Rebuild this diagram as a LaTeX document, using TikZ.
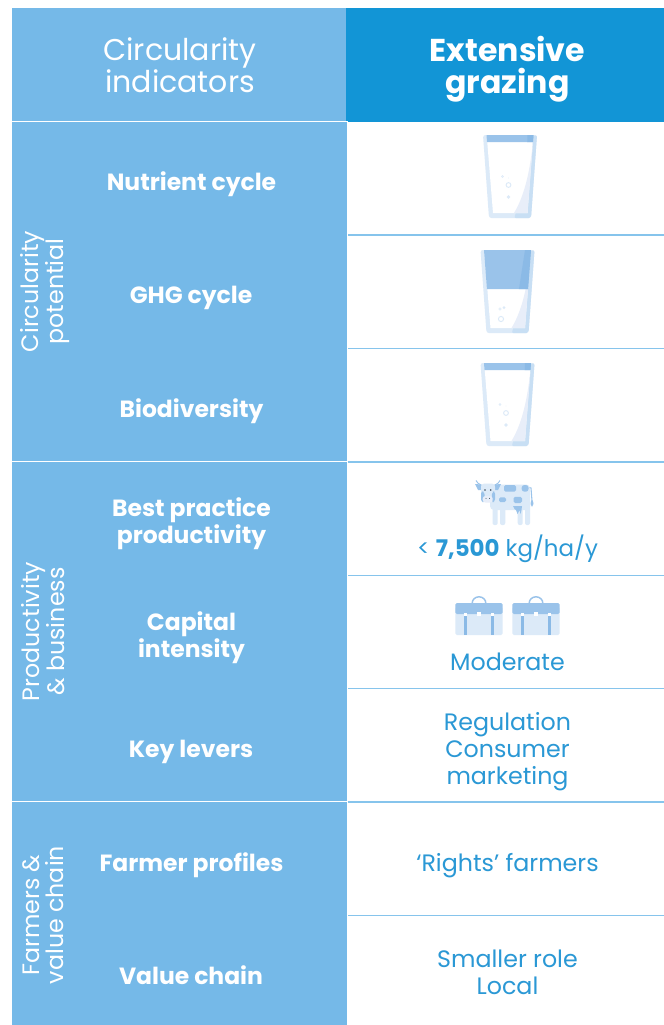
\documentclass[tikz,border=0pt]{standalone}
\usepackage{fontspec}
\setmainfont{Poppins}
\definecolor{lightblue}{HTML}{75B9E8}
\definecolor{deepblue}{HTML}{1295D6}
\definecolor{rulecol}{HTML}{86C4EC}
\definecolor{textblue}{HTML}{2A98D5}
\definecolor{paleA}{HTML}{DCEAF8}
\definecolor{paleB}{HTML}{C8DFF4}
\definecolor{paleC}{HTML}{E8EEF9}
\definecolor{midA}{HTML}{9AC3EA}
\definecolor{midB}{HTML}{8BBAE6}
\definecolor{darkdot}{HTML}{3A4A5A}
\tikzset{
  hdr/.style={text=white,align=center,font=\fontsize{22.5}{24}\selectfont,inner sep=0pt},
  hdrb/.style={text=white,align=center,font=\fontsize{23.7}{24}\selectfont\bfseries,inner sep=0pt},
  rowlab/.style={text=white,align=center,font=\fontsize{17.6}{20.3}\selectfont\bfseries,inner sep=0pt},
  grouplab/.style={text=white,align=center,rotate=90,font=\fontsize{17.8}{18.2}\selectfont,inner sep=0pt},
  cell/.style={text=textblue,align=center,font=\fontsize{17.8}{20.3}\selectfont,inner sep=0pt},
  rowrule/.style={draw=rulecol,line width=0.9pt},
  whiterule/.style={draw=white,line width=0.9pt},
}
% glass: centre x, top y, water depth in px
\newcommand{\glassbody}[3]{%
  \begin{scope}[shift={(#1,#2)}]
    \fill[paleA,rounded corners=1.8pt] (-27,0) -- (27,0) -- (21,83) -- (-21,83) -- cycle;
    \fill[paleB,rounded corners=1.5pt] (21,2) -- (27,0) -- (21,83) -- (4,83) -- (6,78) -- cycle;
    \fill[white] (-23,4) -- (23,4) -- (17.5,78) -- (-17,78) -- cycle;
    \fill[paleC] (23,7) .. controls (20,35) and (15,60) .. (4,78) -- (17.5,78) -- cycle;
    \fill[midA] (-23.5,0) -- (23.5,0) -- ({23.5-0.075*#3},#3) -- ({-23.5+0.075*#3},#3) -- cycle;
    \fill[midB] (17.5,0) -- (23.5,0) -- ({23.5-0.075*#3},#3) -- ({18.5-0.18*#3},#3) -- cycle;
  \end{scope}}
\newcommand{\bubblesA}[2]{%
  \begin{scope}[shift={(#1,#2)}]
    \draw[paleA,line width=0.7pt] (-1.5,50) circle (2.4);
    \draw[paleA,line width=0.4pt] (-7.5,41.5) circle (1.1);
    \fill[paleA] (-1.5,62) circle (1.8);
    \fill[paleA] (-1.5,43) circle (0.4);
  \end{scope}}
\newcommand{\bubblesB}[2]{%
  \begin{scope}[shift={(#1,#2)}]
    \draw[paleA,line width=0.7pt] (-6.5,69) circle (2.6);
    \draw[paleA,line width=0.4pt] (-7.5,59) circle (1.2);
    \fill[paleA] (-3.5,57.5) circle (1.5);
  \end{scope}}
\newcommand{\briefcase}[1]{%
  \begin{scope}[shift={(#1,603)}]
    \draw[midA,line width=1.1pt] (-6.8,0) arc (180:360:6.8 and 6.2);
    \fill[paleA,rounded corners=1.2pt] (-23.7,4) rectangle (23.7,32);
    \fill[midA,rounded corners=1.2pt] (-23.7,0) -- (23.7,0) -- (23.7,11) -- (-23.7,11) -- cycle;
    \fill[midB] (-15,10) rectangle (-11.7,32);
    \fill[midB] (11.7,10) rectangle (15,32);
    \fill[white] (-15,9.5) rectangle (-11.7,12.5);
    \fill[white] (11.7,9.5) rectangle (15,12.5);
    \fill[white] (-1.6,8.5) rectangle (1.6,12.5);
  \end{scope}}
\begin{document}
\begin{tikzpicture}[x=0.75pt,y=-0.75pt]
\useasboundingbox (0,0) rectangle (664,1025);
\fill[white] (0,0) rectangle (664,1025);
% panels
\fill[lightblue] (12,8) rectangle (346,121);
\fill[deepblue] (346,8) rectangle (664,122);
\fill[lightblue] (12,122) rectangle (347,1025);
\draw[whiterule] (12,121.5) -- (347.5,121.5);
\draw[whiterule] (347.5,122) -- (347.5,1025);
\draw[whiterule] (12,461.5) -- (347.5,461.5);
\draw[whiterule] (12,801.5) -- (347.5,801.5);
% row rules
\foreach \yy in {235,348.5,462,575.5,688.5,802,915.5}
  \draw[rowrule] (348,\yy) -- (664,\yy);
% header
\node[hdr] (hleft) at (180,65) {Circularity\\indicators};
\node[hdrb] (hright) at (507.5,69) {Extensive\\grazing};
% group labels
\node[grouplab] (g1) at (45,291.5) {Circularity\\potential};
\node[grouplab] (g2) at (43,631.5) {Productivity\\\& business};
\node[grouplab] (g3) at (43,915) {Farmers \&\\value chain};
% row labels
\node[rowlab] (r1) at (191.5,184) {Nutrient cycle};
\node[rowlab] (r2) at (191,297.5) {GHG cycle};
\node[rowlab] (r3) at (191.5,411) {Biodiversity};
\node[rowlab] (r4) at (191.5,524) {Best practice\\productivity};
\node[rowlab] (r5) at (191.5,637.5) {Capital\\intensity};
\node[rowlab] (r6) at (191,751.5) {Key levers};
\node[rowlab] (r7) at (191.5,865) {Farmer profiles};
\node[rowlab] (r8) at (191,975.5) {Value chain};
% cells
\glassbody{510}{135}{7}\bubblesA{510}{135}
\glassbody{507.5}{250}{39}\bubblesB{507.5}{250}
\glassbody{507.5}{363}{7}\bubblesA{507.5}{363}
% cow
\begin{scope}
  \draw[midA,line width=0.8pt] (527,487) -- (531,488) -- (532,501);
  \fill[midA] (532,499.5) .. controls (530,503) and (530,505) .. (532,507) .. controls (534,505) and (534,503) .. (532,499.5);
  \fill[paleA,rounded corners=1.5pt] (492.5,500) rectangle (497.7,525);
  \fill[paleA,rounded corners=1.5pt] (500,500) rectangle (505.3,525);
  \fill[paleA,rounded corners=1.5pt] (517.7,500) rectangle (522.7,525);
  \fill[paleA,rounded corners=1.5pt] (525,500) rectangle (530,525);
  \fill[paleA,rounded corners=3pt] (490,484.5) rectangle (530,510);
  \fill[midA] (513,506) -- (522,506) -- (521.5,510) -- (520.5,514) -- (519.5,510) -- (517.5,514) -- (516,510) -- (514.5,509) -- cycle;
  \fill[midA,rounded corners=1.2pt] (504,485) rectangle (516,491.7);
  \fill[midA,rounded corners=2pt] (521.7,485) rectangle (528.5,491.7);
  \fill[midA,rounded corners=1.2pt] (499,497.3) rectangle (506,502.2);
  \fill[midA,rounded corners=1.2pt] (513.5,496.8) rectangle (522,503);
  % horns and ears
  \draw[midA,line width=0.7pt] (481,485) .. controls (478.5,484) and (477,482.5) .. (476,480.5);
  \draw[midA,line width=0.7pt] (495,485) .. controls (497.5,484) and (499,482.5) .. (500,480.5);
  \fill[midA] (475,484) -- (481.5,484.5) -- (481.5,490) -- (478,490) -- cycle;
  \fill[midA] (501,484) -- (494.5,484.5) -- (494.5,490) -- (498,490) -- cycle;
  % head
  \fill[paleA,rounded corners=2.5pt] (481,483.5) rectangle (495,501.5);
  \fill[midA,rounded corners=2pt] (481,491) -- (484.5,492) -- (485,502) -- (481,502) -- cycle;
  \fill[midA,rounded corners=2pt] (495,491) -- (492,492) -- (491.5,502) -- (495,502) -- cycle;
  \fill[paleC,rounded corners=2pt] (482.7,496) rectangle (492.7,502.5);
  \fill[darkdot] (485,490) circle (0.9);
  \fill[darkdot] (490.7,490) circle (0.9);
  \fill[darkdot] (486,498.3) circle (0.5);
  \fill[darkdot] (489.5,498.3) circle (0.5);
\end{scope}
\node[cell,font=\fontsize{17.2}{20.3}\selectfont] (c4) at (507.5,549) {< {\bfseries 7,500} kg/ha/y};
\briefcase{479}
\briefcase{536}
\node[cell] (c5) at (507.5,661.5) {Moderate};
\node[cell] (c6) at (507.5,752) {Regulation\\Consumer\\marketing};
\node[cell] (c7) at (507.5,866) {‘Rights’ farmers};
\node[cell] (c8) at (507.5,972.5) {Smaller role\\Local};
\end{tikzpicture}
\end{document}
